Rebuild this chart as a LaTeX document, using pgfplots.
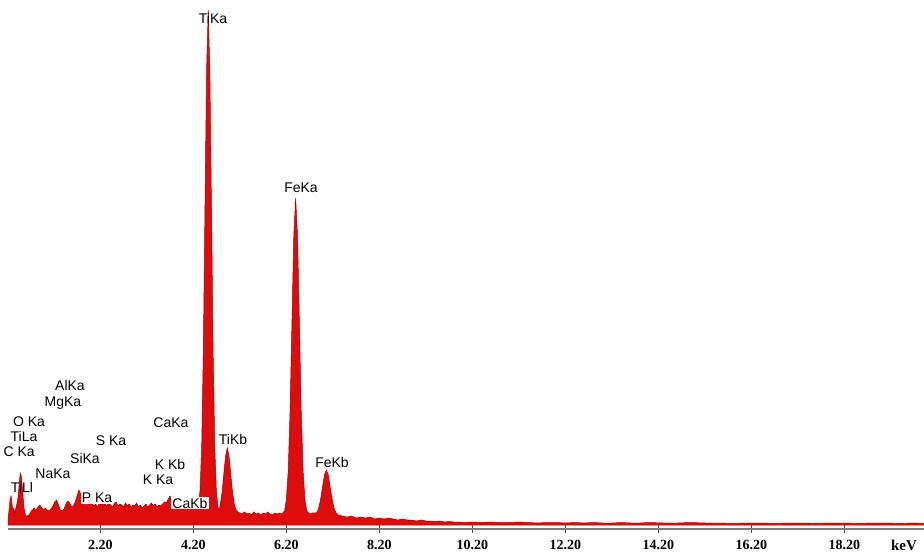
\documentclass[border=0pt]{standalone}
\usepackage{pgfplots}
\pgfplotsset{compat=1.18}
\usepackage{fontspec}
\setmainfont{Liberation Sans}
\newfontfamily\tickfont{Liberation Serif}
\definecolor{specfill}{RGB}{222,12,12}
\definecolor{specedge}{RGB}{165,0,0}
\definecolor{axgray}{RGB}{125,125,125}
\pgfplotstableread{
x y
0.215 0
0.22 8
0.24 16
0.26 26
0.28 29
0.30 22
0.32 14
0.34 17
0.36 12
0.38 16
0.40 20
0.42 24
0.44 32
0.46 44
0.48 52
0.50 49
0.52 40
0.54 28
0.56 17
0.58 12
0.60 9
0.62 8
0.64 10
0.66 9
0.68 11
0.70 13
0.74 15
0.78 17
0.82 15
0.86 18
0.90 20
0.94 17
0.98 15
1.02 17
1.06 15
1.10 14
1.14 16
1.18 19
1.22 23
1.26 25
1.30 20
1.34 15
1.38 14
1.42 16
1.46 21
1.50 24
1.54 22
1.58 18
1.62 19
1.66 23
1.70 29
1.74 35
1.78 31
1.82 25
1.86 22
1.90 20
1.94 21
1.98 23
2.02 22
2.06 19
2.10 21
2.14 18
2.18 22
2.22 20
2.26 23
2.30 21
2.34 19
2.38 22
2.42 20
2.46 18
2.50 21
2.54 23
2.58 19
2.62 21
2.66 20
2.70 18
2.74 22
2.78 19
2.82 21
2.86 18
2.90 20
2.94 19
2.98 22
3.02 18
3.06 20
3.10 17
3.14 19
3.18 21
3.22 18
3.26 20
3.30 22
3.34 19
3.38 21
3.42 18
3.46 20
3.50 19
3.54 21
3.58 23
3.62 22
3.66 26
3.70 29
3.74 25
3.78 21
3.82 19
3.86 20
3.90 18
3.94 19
3.98 21
4.02 20
4.06 18
4.10 19
4.14 17
4.18 18
4.22 19
4.26 17
4.28 17
4.31 20
4.345 35
4.38 80
4.415 175
4.45 317
4.485 456
4.52 515
4.555 456
4.59 317
4.625 175
4.66 80
4.695 34
4.73 18
4.755 15
4.78 21
4.8175 33
4.855 51
4.8925 69
4.93 77
4.9675 69
5.005 51
5.0425 33
5.08 21
5.1175 15
5.155 13
5.20 12
5.25 11
5.30 13
5.35 11
5.40 12
5.45 10
5.50 13
5.55 11
5.60 12
5.65 10
5.70 12
5.75 11
5.80 13
5.85 11
5.90 10
5.95 12
6.00 11
6.05 12
6.10 11
6.16 14
6.20 25
6.24 54
6.28 114
6.32 203
6.36 290
6.40 327
6.44 290
6.48 203
6.52 114
6.56 54
6.60 25
6.64 14
6.68 12
6.72 11
6.76 12
6.805 12
6.8475 12
6.89 16
6.9325 25
6.975 37
7.0175 50
7.06 55
7.1025 50
7.145 37
7.1875 25
7.23 16
7.2725 12
7.315 10
7.4 9
7.5 8
7.6 9
7.7 7
7.8 8
7.9 7
8.0 8
8.1 6
8.2 7
8.3 6
8.4 7
8.5 6
8.6 5
8.7 6
8.8 5
8.9 5
9.0 4
9.1 5
9.2 4
9.3 4
9.4 3.5
9.5 4
9.6 3
9.7 3.5
9.8 3
9.9 3
10.0 2.5
10.2 3
10.4 2.5
10.6 3
10.8 2.5
11.0 2.5
11.2 3
11.4 2.5
11.6 2
11.8 2.5
12.0 2.5
12.2 2
12.4 2.5
12.6 2
12.8 2.5
13.0 2
13.2 2
13.4 2.5
13.6 2
13.8 2
14.0 2.5
14.3 2
14.6 2
14.9 2.5
15.2 2
15.5 2
15.8 1.5
16.1 2
16.4 2
16.7 1.5
17.0 2
17.3 2
17.6 1.5
17.9 2
18.2 2
18.5 1.5
18.8 2
19.1 2
19.4 1.5
19.7 2
19.91 1.5
19.91 0
}\spectrum
\begin{document}
\begin{tikzpicture}[x=1pt,y=1pt]
\useasboundingbox (0,0) rectangle (924,552);
\begin{axis}[
  scale only axis, width=916pt, height=529pt,
  at={(8pt,23pt)}, anchor=south west,
  xmin=0.215, xmax=19.91, ymin=-4, ymax=525,
  axis x line=bottom, axis y line=none,
  x axis line style={-, draw=axgray, line width=1.8pt},
  xtick={2.2,4.2,6.2,8.2,10.2,12.2,14.2,16.2,18.2},
  xticklabels={2.20,4.20,6.20,8.20,10.20,12.20,14.20,16.20,18.20},
  xticklabel style={font=\tickfont\bfseries\fontsize{14}{14}\selectfont, anchor=base, yshift=-16.5pt},
  major tick length=8pt, tick align=center,
  tick style={line width=1pt, draw=black!70},
  clip=false,
]
\addplot[fill=specfill, draw=specedge, line width=0.5pt] table {\spectrum} \closedcycle;
\end{axis}
\begin{scope}[every node/.style={font=\fontsize{14}{14}\selectfont, inner sep=1pt, text=black}]
\node at (213,533) {TiKa};
\node at (301,364) {FeKa};
\node at (233,113) {TiKb};
\node at (332,90) {FeKb};
\node at (70,167) {AlKa};
\node at (63,149) {MgKa};
\node at (29,130) {O Ka};
\node at (24,116) {TiLa};
\node[anchor=east] at (36,100) {C Ka};
\node at (53,78) {NaKa};
\node at (22,65) {TiLl};
\node at (85,94) {SiKa};
\node at (111,111) {S Ka};
\node[fill=white] at (97,54) {P Ka};
\node at (171,129) {CaKa};
\node at (170,88) {K Kb};
\node at (158,72) {K Ka};
\node[fill=white] at (190,49) {CaKb};
\end{scope}
\node[anchor=base, font=\tickfont\bfseries\fontsize{15}{15}\selectfont] at (904,2) {keV};
\end{tikzpicture}
\end{document}
